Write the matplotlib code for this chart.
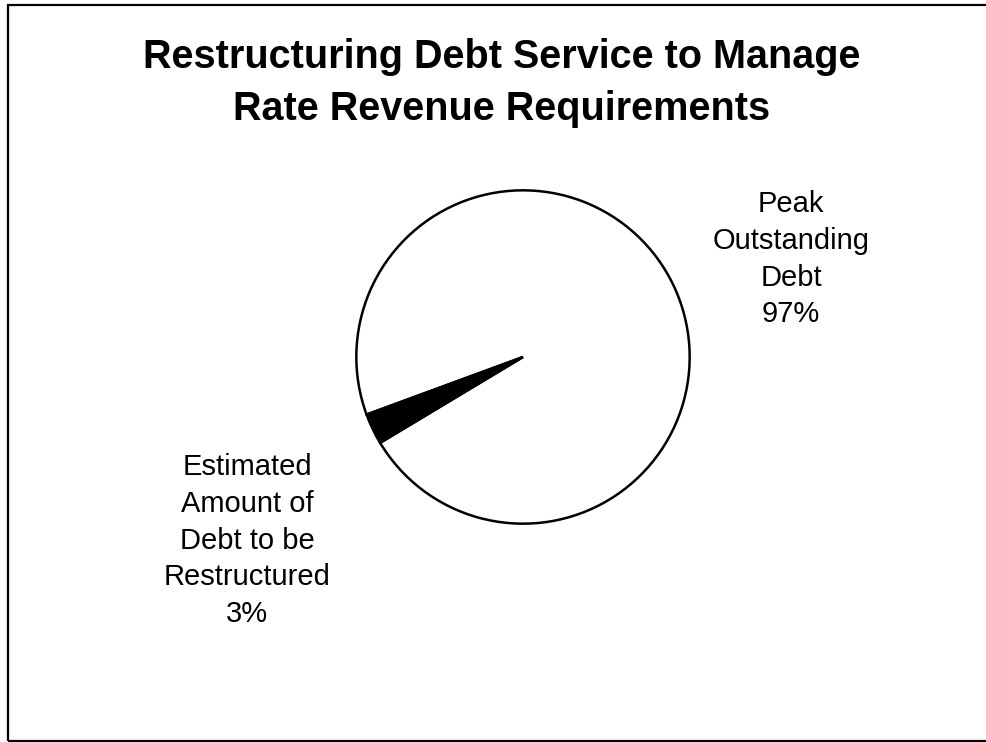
import matplotlib
matplotlib.use("Agg")
import matplotlib.pyplot as plt
from matplotlib.patches import Rectangle

# Share of peak debt, split into the part kept and the part restructured
categories = ["Peak\nOutstanding\nDebt", "Estimated\nAmount of\nDebt to be\nRestructured"]
shares = [97, 3]
colors = ["white", "black"]

title = "Restructuring Debt Service to Manage\nRate Revenue Requirements"

W, H = 986, 742

def fx(px):
	return px / W

def fy(py):
	# pixel rows count down from the top
	return 1 - py / H

def main():
	plt.rcParams['font.family'] = ['Liberation Sans', 'DejaVu Sans']

	fig = plt.figure(figsize=(W / 100, H / 100), dpi=100)

	# Outer frame around the chart area
	fig.patches.append(Rectangle((fx(7.5), fy(740.5)), 1.0, (740.5 - 4.5) / H,
		transform=fig.transFigure, fill=False, edgecolor="black", linewidth=1.6))

	fig.text(fx(502), fy(38), title, ha="center", va="top",
		fontsize=28.5, fontweight="bold", linespacing=1.47)

	# Pie: centre (523, 357), radius 170 px
	ax = fig.add_axes([fx(523 - 170), fy(357 + 170), 340 / W, 340 / H])
	ax.pie(shares, colors=colors, startangle=211, counterclock=True,
		wedgeprops=dict(edgecolor="black", linewidth=1.8))
	ax.set_xlim(-1.02, 1.02)
	ax.set_ylim(-1.02, 1.02)
	ax.axis("off")

	# Category labels with their percentage
	label_pos = [(791, 190), (247, 453)]
	for name, share, (px, py) in zip(categories, shares, label_pos):
		fig.text(fx(px), fy(py), name + "\n" + str(share) + "%",
			ha="center", va="top", fontsize=21, linespacing=1.40)

	fig.savefig("out.png", dpi=100, facecolor="white")

if __name__ == "__main__":
	main()
